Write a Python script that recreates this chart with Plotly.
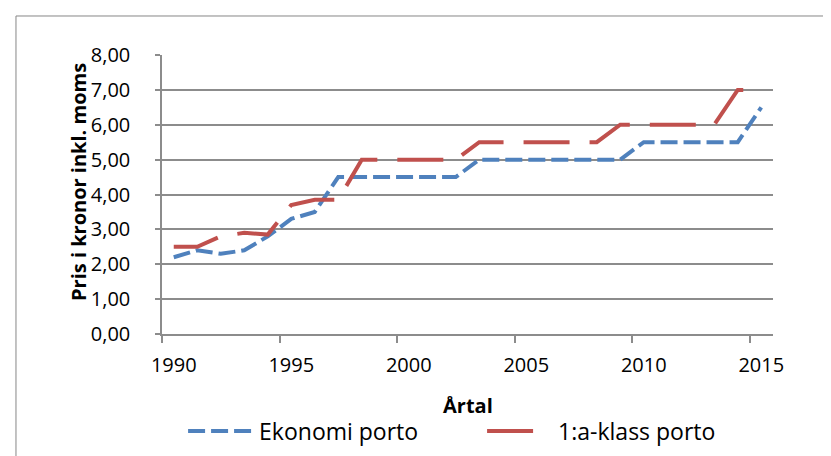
import plotly.graph_objects as go

years = list(range(1990, 2016))
ekonomi = [2.2, 2.4, 2.3, 2.4, 2.8, 3.3, 3.5, 4.5, 4.5, 4.5, 4.5, 4.5, 4.5,
           5.0, 5.0, 5.0, 5.0, 5.0, 5.0, 5.0, 5.5, 5.5, 5.5, 5.5, 5.5, 6.5]
forsta = [2.5, 2.5, 2.8, 2.9, 2.85, 3.7, 3.85, 3.85, 5.0, 5.0, 5.0, 5.0, 5.0,
          5.5, 5.5, 5.5, 5.5, 5.5, 5.5, 6.0, 6.0, 6.0, 6.0, 6.0, 7.0, 7.0]
label_years = [1990, 1995, 2000, 2005, 2010, 2015]
y_ticks = [0, 1, 2, 3, 4, 5, 6, 7, 8]

FONT = "Open Sans"
GRID = "#8C8C8C"

fig = go.Figure()
fig.add_trace(go.Scatter(x=years, y=ekonomi, mode="lines", name="Ekonomi porto",
                         line=dict(color="#4F81BD", width=4, dash="17px,6px")))
fig.add_trace(go.Scatter(x=years, y=forsta, mode="lines", name="1:a-klass porto",
                         line=dict(color="#C0504D", width=4, dash="46px,20px")))

fig.update_layout(
    width=831, height=456,
    margin=dict(l=154, r=66, t=47, b=130, autoexpand=False),
    paper_bgcolor="white", plot_bgcolor="white",
    separators=", ",
    font=dict(family=FONT, color="black", size=20),
    showlegend=True,
    legend=dict(orientation="h", xref="container", yref="container",
                xanchor="center", x=0.5705, yanchor="middle", y=0.072,
                font=dict(family=FONT, size=23, color="black"),
                itemwidth=66, entrywidth=218, bgcolor="rgba(0,0,0,0)"),
    xaxis=dict(range=[1989.5, 2015.5], tickmode="array", tickvals=label_years,
               ticktext=[str(y) for y in label_years], ticks="", showgrid=False,
               showline=True, linecolor=GRID, linewidth=1.5, zeroline=False,
               automargin=False,
               tickfont=dict(size=20), ticklabelstandoff=12,
               minor=dict(tickmode="array", tickvals=[y - 0.5 for y in label_years],
                          ticks="outside", ticklen=7, tickcolor=GRID, tickwidth=1.5,
                          showgrid=False)),
    yaxis=dict(range=[0, 8], tickmode="array", tickvals=y_ticks, tickformat=".2f",
               ticks="outside", ticklen=5, tickcolor=GRID, tickwidth=1.5,
               showgrid=True, gridcolor=GRID, gridwidth=1.5,
               showline=True, linecolor=GRID, linewidth=1.5, zeroline=False,
               automargin=False,
               tickfont=dict(size=20), ticklabelstandoff=21),
    annotations=[
        dict(text="<b>Årtal</b>", xref="paper", yref="paper", x=0.5008, y=-0.2545,
             xanchor="center", yanchor="middle", showarrow=False, font=dict(size=20)),
        dict(text="<b>Pris i kronor inkl. moms</b>", xref="paper", yref="paper",
             x=-0.1375, y=0.5448, xanchor="center", yanchor="middle", textangle=-90,
             showarrow=False, font=dict(size=20)),
    ],
    shapes=[dict(type="rect", xref="paper", yref="paper", x0=-0.239, x1=1.3,
                 y0=-0.7, y1=1.1398, line=dict(color="#868686", width=1),
                 fillcolor="rgba(0,0,0,0)", layer="below")],
)

fig.write_html("out.html")
